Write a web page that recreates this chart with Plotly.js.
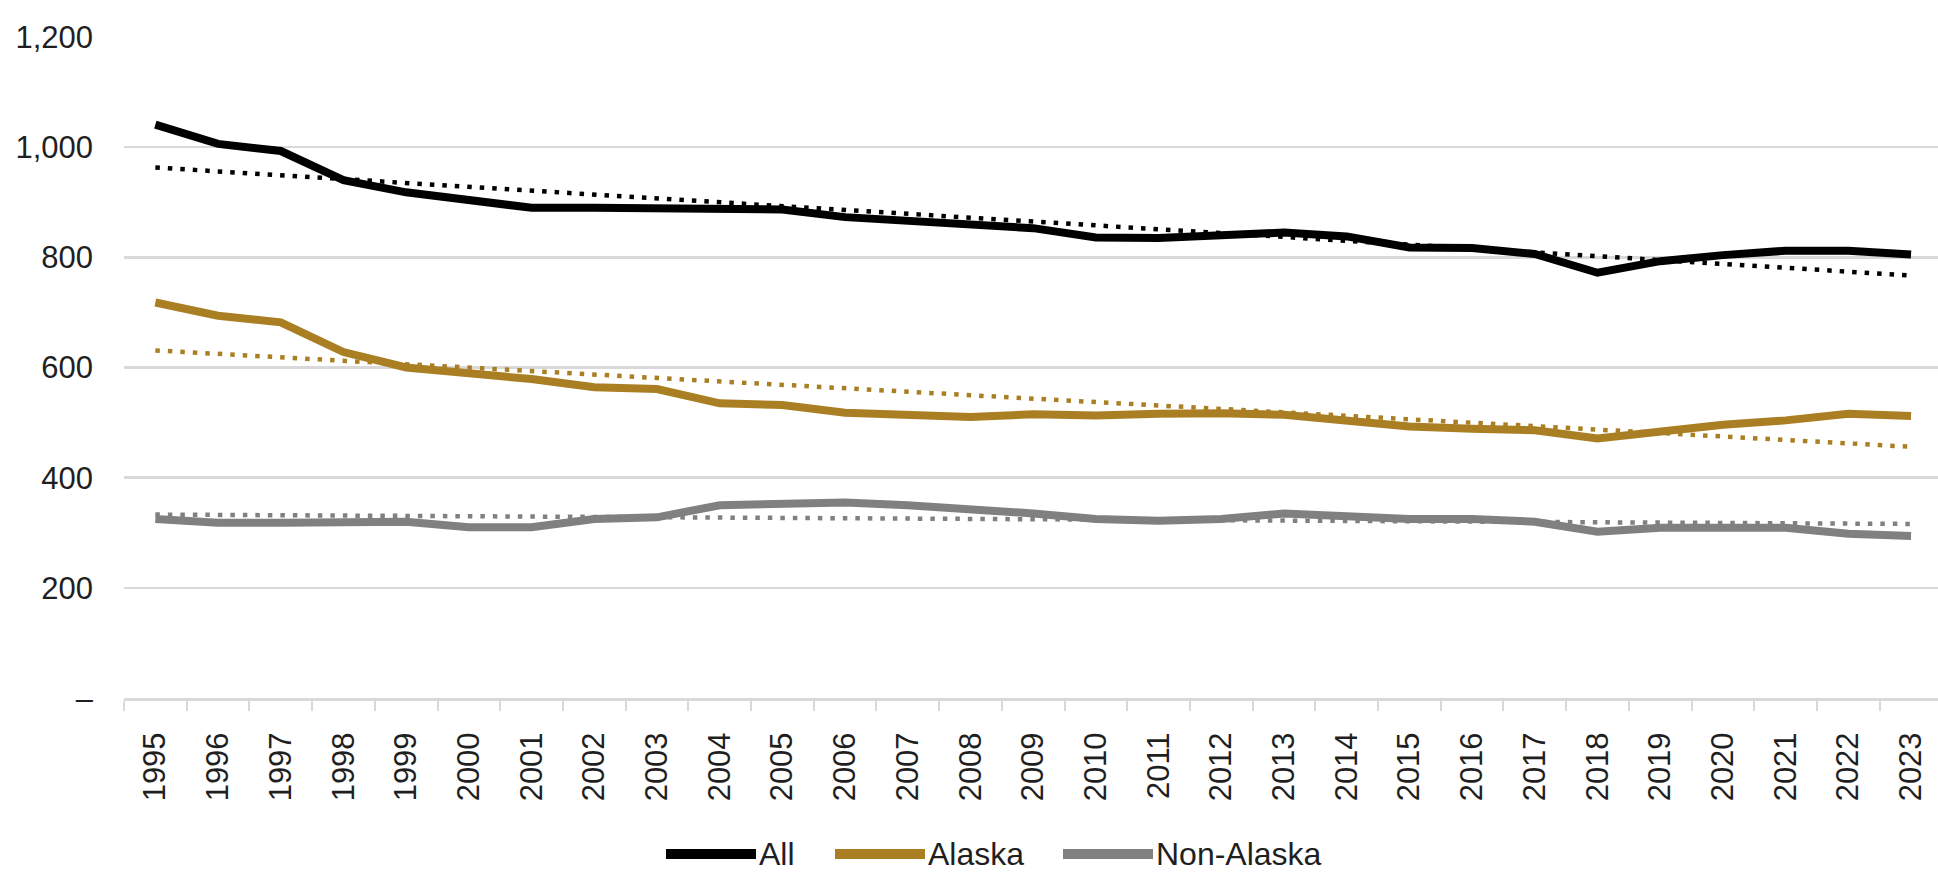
<!DOCTYPE html>
<html>
<head>
<meta charset="utf-8">
<script src="https://cdn.plot.ly/plotly-3.0.1.min.js"></script>
<style>
  html, body { margin: 0; padding: 0; background: #ffffff; }
  #chart { width: 1938px; height: 872px; }
</style>
</head>
<body>
<div id="chart"></div>
<script>
// ---- data ----
const years = ["1995","1996","1997","1998","1999","2000","2001","2002","2003","2004",
               "2005","2006","2007","2008","2009","2010","2011","2012","2013","2014",
               "2015","2016","2017","2018","2019","2020","2021","2022","2023"];
const allValues = [1041, 1006, 993, 940, 918, 904, 890, 890, 890, 887,
                   887, 873, 866, 857, 853, 836, 835, 840, 845, 838,
                   818, 817, 806, 772, 793, 804, 812, 812, 805];
const alaskaValues = [718, 694, 682, 628, 600, 591, 579, 564, 561, 535,
                      532, 518, 513, 510, 515, 513, 516, 517, 514, 502,
                      493, 489, 486, 471, 484, 496, 504, 516, 512];
const nonAlaskaValues = [325, 318, 318, 318, 320, 310, 310, 325, 328, 350,
                         353, 355, 350, 343, 335, 325, 322, 325, 335, 330,
                         325, 325, 320, 302, 309, 309, 309, 298, 294];
// linear trend lines, read at first and last year
const trendYears = ["1995", "2023"];
const allTrend = [963, 767];
const alaskaTrend = [631, 456];
const nonAlaskaTrend = [333, 316];

const seriesNames = ["All", "Alaska", "Non-Alaska"];
const seriesColors = ["#000000", "#AA7F24", "#808080"];
const yTickValues = [0, 200, 400, 600, 800, 1000, 1200];
const yTickLabels = ["\u2013", "200", "400", "600", "800", "1,000", "1,200"];

// ---- chart ----
const FONT = "'Liberation Sans', Arial, sans-serif";
const TXT = "#1f1f1f";
const mainSeries = [allValues, alaskaValues, nonAlaskaValues];
const trendSeries = [allTrend, alaskaTrend, nonAlaskaTrend];

const traces = [];
mainSeries.forEach((vals, i) => {
  traces.push({
    type: "scatter", mode: "lines", x: years, y: vals, name: seriesNames[i],
    line: { color: seriesColors[i], width: 8 }, showlegend: false, hoverinfo: "skip"
  });
});
trendSeries.forEach((vals, i) => {
  traces.push({
    type: "scatter", mode: "lines", x: trendYears, y: vals, name: seriesNames[i] + " trend",
    line: { color: seriesColors[i], width: 4.5, dash: "4.5px,8px" }, showlegend: false, hoverinfo: "skip"
  });
});

// custom legend (long line samples as in the reference)
const W = 1938, H = 872, mL = 124, mR = 0, mT = 37, mB = 174;
const pw = W - mL - mR, ph = H - mT - mB;
const px2x = px => (px - mL) / pw;
const py2y = py => (H - mB - py) / ph;
const legendStarts = [666, 835, 1063];
const sampleLen = 90;
const legendY = 854;
const shapes = [], annotations = [];
seriesNames.forEach((n, i) => {
  shapes.push({
    type: "line", xref: "paper", yref: "paper",
    x0: px2x(legendStarts[i]), x1: px2x(legendStarts[i] + sampleLen),
    y0: py2y(legendY), y1: py2y(legendY),
    line: { color: seriesColors[i], width: 10 }
  });
  annotations.push({
    xref: "paper", yref: "paper", x: px2x(legendStarts[i] + sampleLen + 1), y: py2y(legendY),
    xanchor: "left", yanchor: "middle", showarrow: false, text: n,
    font: { family: FONT, size: 32, color: TXT }
  });
});

const layout = {
  width: W, height: H,
  margin: { l: mL, r: mR, t: mT, b: mB, pad: 0 },
  paper_bgcolor: "#ffffff", plot_bgcolor: "#ffffff",
  showlegend: false,
  font: { family: FONT, size: 31, color: TXT },
  xaxis: {
    type: "category", range: [-0.5, 28.43],
    tickson: "boundaries", ticks: "outside", ticklen: 10, tickwidth: 2, tickcolor: "#d9d9d9",
    showline: true, linecolor: "#d9d9d9", linewidth: 3,
    showgrid: false, zeroline: false, tickangle: -90,
    tickfont: { family: FONT, size: 31, color: TXT },
    ticklabelstandoff: 19, fixedrange: true
  },
  yaxis: {
    range: [0, 1200], tickvals: yTickValues, ticktext: yTickLabels,
    showgrid: true, gridcolor: "#d9d9d9", gridwidth: 2.5,
    zeroline: false, showline: false, ticks: "",
    tickfont: { family: FONT, size: 31, color: TXT },
    ticklabelstandoff: 30, fixedrange: true
  },
  shapes: shapes,
  annotations: annotations
};

Plotly.newPlot("chart", traces, layout, { displayModeBar: false, staticPlot: true });
</script>
</body>
</html>
